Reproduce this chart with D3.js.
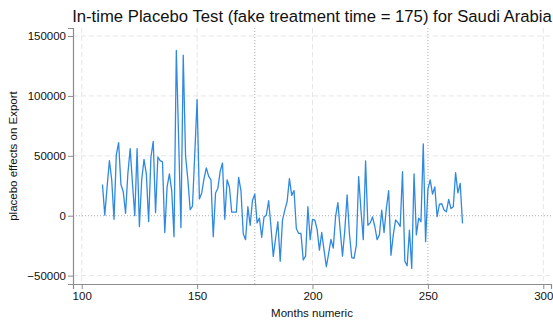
<!DOCTYPE html>
<html>
<head>
<meta charset="utf-8">
<script src="https://cdn.jsdelivr.net/npm/d3@7"></script>
<style>
  html, body { margin: 0; padding: 0; background: #fff; }
  svg { display: block; }
  text { font-family: "Liberation Sans", Arial, Helvetica, sans-serif; fill: #111; }
</style>
</head>
<body>
<svg id="chart" width="553" height="327"></svg>
<script>
// Placebo effect on exports, by month (first month = 109)
const startMonth = 109;
const effects = [
  26000, 500, 24000, 46000, 30000, -3000, 51000, 61000, 26000, 20000,
  2000, 35000, 56000, 27000, 0, 56000, -9000, 30000, 47000, 35000,
  -5000, 49000, 62000, 2500, 49000, 46000, 45000, -14000, 24000, 35000,
  21000, -17500, 138000, 64000, -10000, 134000, 50000, 30000, 5000, 8000,
  52000, 97000, 14000, 19000, 31000, 40000, 33000, 30000, -17500, 19000,
  23000, 37000, 44000, -3000, 30000, 24000, 3000, 3000, 3000, 32000,
  21000, -15000, -20000, 7500, -8000, 13000, 18000, -6000, -2000, -18000,
  -1000, 500, 12500, -9000, -34000, -19000, -5000, -38000, -3600, 4700,
  11700, 31000, 17000, 21000, -10600, -14800, -14800, -37000, -33700, 7500,
  -20000, -3000, -3600, -11400, -28700, -14000, -28700, -42600, -31500, -19800,
  -27000, -800, 10900, -12000, -33700, -12000, 17300, -14800, -35000, -35600,
  -24500, 32600, 4700, -20000, 45700, -8000, -6000, -1000, -9000, -20000,
  -16000, 4700, -14000, 6000, 21000, -33000, -16000, -3600, -5800, -9000,
  36700, -38000, -41800, -12000, -44000, 35000, -16000, -2000, -5000, 60000,
  -21700, 22000, 30000, 18000, 24000, -800, 9700, 10000, 4700, 3300,
  13600, 6000, 7500, 36000, 19000, 27000, -6400
];
const months = effects.map((_, i) => startMonth + i);

const xTicks = [100, 150, 200, 250, 300];
const yTicks = [-50000, 0, 50000, 100000, 150000];
const markerMonths = [175, 250];   // fake and actual treatment times

const titleText = "In-time Placebo Test (fake treatment time = 175) for Saudi Arabia";
const xTitle = "Months numeric";
const yTitle = "placebo effects on Export";

const svg = d3.select("#chart");
const plotLeft = 73, plotRight = 551, plotTop = 28, plotBottom = 284;

const x = d3.scaleLinear().domain([96.23, 303.34]).range([plotLeft, plotRight]);
const y = d3.scaleLinear().domain([-57000, 156700]).range([plotBottom, plotTop]);

// gridlines
const grid = svg.append("g");
grid.selectAll("line.gy").data(yTicks.filter(d => d !== 0)).join("line")
  .attr("x1", plotLeft).attr("x2", plotRight)
  .attr("y1", d => y(d)).attr("y2", d => y(d))
  .attr("stroke", "#e6e6e6").attr("stroke-width", 1).attr("stroke-dasharray", "5,3");
grid.selectAll("line.gx").data(xTicks.filter(d => !markerMonths.includes(d))).join("line")
  .attr("y1", plotTop).attr("y2", plotBottom)
  .attr("x1", d => x(d)).attr("x2", d => x(d))
  .attr("stroke", "#e6e6e6").attr("stroke-width", 1).attr("stroke-dasharray", "5,3");

// zero line and treatment-time markers
svg.append("line")
  .attr("x1", plotLeft).attr("x2", plotRight).attr("y1", y(0)).attr("y2", y(0))
  .attr("stroke", "#999").attr("stroke-width", 0.8).attr("stroke-dasharray", "1,2");
svg.selectAll("line.vm").data(markerMonths).join("line")
  .attr("x1", d => x(d)).attr("x2", d => x(d)).attr("y1", plotTop).attr("y2", plotBottom)
  .attr("stroke", "#999").attr("stroke-width", 0.8).attr("stroke-dasharray", "1,2");

// series line
const line = d3.line().x((d, i) => x(months[i])).y(d => y(d));
svg.append("path").datum(effects)
  .attr("d", line)
  .attr("fill", "none")
  .attr("stroke", "#3089e0")
  .attr("stroke-width", 1.3)
  .attr("stroke-linejoin", "round");

// axes
const xAxis = svg.append("g").attr("transform", `translate(0,${plotBottom})`)
  .call(d3.axisBottom(x).tickValues(xTicks).tickSizeOuter(0).tickSize(5).tickPadding(3).tickFormat(d3.format("d")));
const yAxis = svg.append("g").attr("transform", `translate(${plotLeft},0)`)
  .call(d3.axisLeft(y).tickValues(yTicks).tickSizeOuter(0).tickSize(5).tickPadding(2).tickFormat(d3.format("d")));
[xAxis, yAxis].forEach(a => {
  a.select(".domain").attr("stroke", "#8c8c8c").attr("stroke-width", 1.2);
  a.selectAll(".tick line").attr("stroke", "#8c8c8c");
  a.selectAll(".tick text").attr("font-size", 11.5).attr("fill", "#111")
    .attr("font-family", "'Liberation Sans', Arial, Helvetica, sans-serif");
});

// titles
svg.append("text").attr("x", 312).attr("y", 22).attr("text-anchor", "middle")
  .attr("font-size", 16.7).text(titleText);
svg.append("text").attr("x", 312).attr("y", 317).attr("text-anchor", "middle")
  .attr("font-size", 11.5).text(xTitle);
svg.append("text").attr("transform", "translate(17,156) rotate(-90)")
  .attr("text-anchor", "middle").attr("font-size", 11.5).text(yTitle);
</script>
</body>
</html>
